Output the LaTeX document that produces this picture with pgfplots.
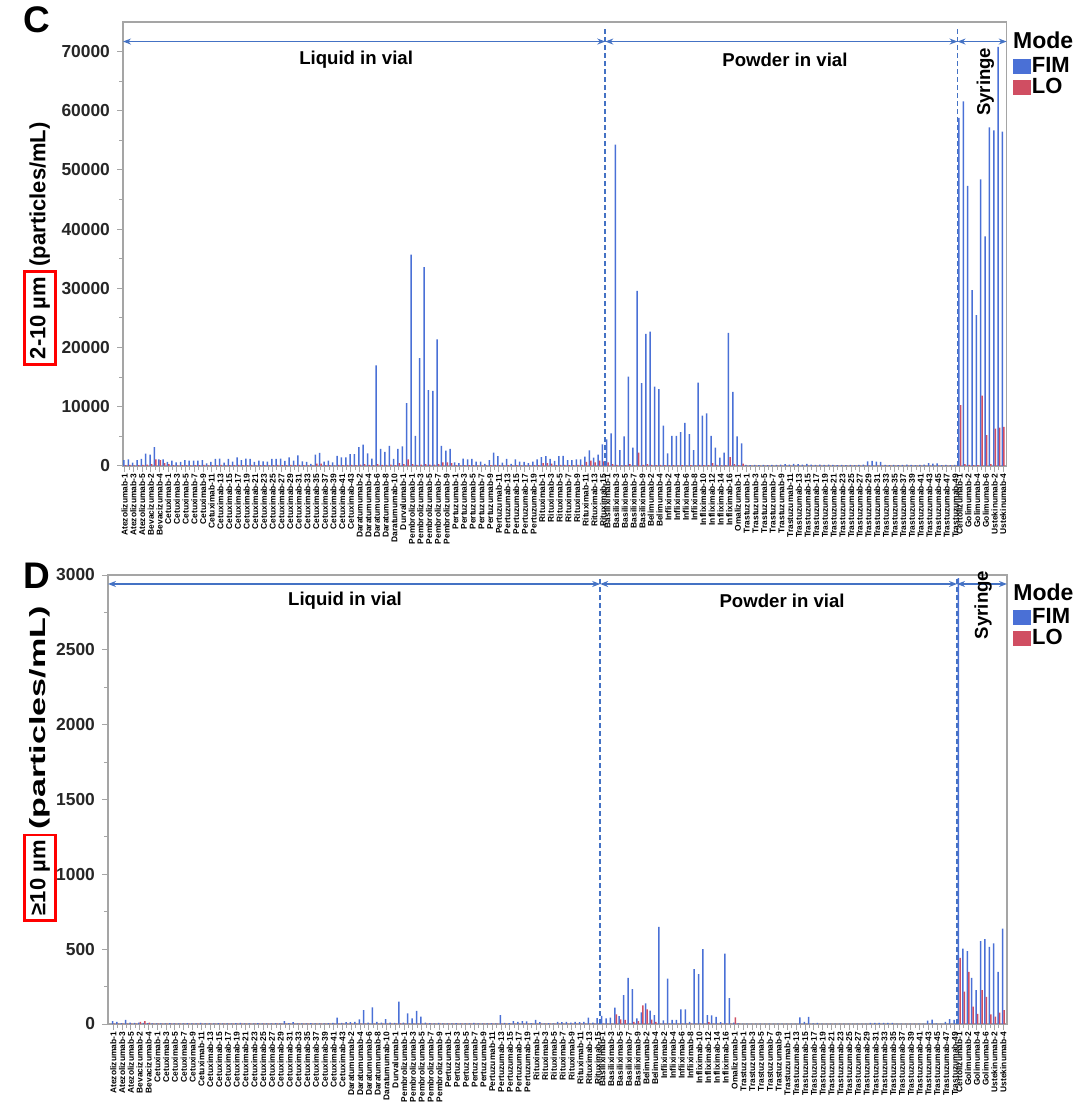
\documentclass[border=0pt]{standalone}
\usepackage{pgfplots}
\pgfplotsset{compat=1.18}
\usepackage{pgfplotstable}
\usepackage{graphicx}
\usetikzlibrary{arrows.meta}
\usepackage{fontspec}
\setmainfont{Liberation Sans}
\definecolor{fimblue}{RGB}{74,112,214}
\definecolor{lored}{RGB}{208,78,98}
\definecolor{arrowblue}{RGB}{68,114,196}
\definecolor{axgray}{RGB}{165,165,165}

% Panel C: 2-10 um
\pgfplotstableread[row sep=\\]{
x fim lo\\
0 1000 150\\ 1 1100 200\\ 2 550 100\\ 3 1000 150\\ 4 1200 200\\ 5 2100 250\\ 6 1900 300\\ 7 3200 1100\\ 8 1100 1000\\ 9 1100 500\\
10 700 300\\ 11 900 150\\ 12 600 100\\ 13 700 150\\ 14 1000 150\\ 15 900 100\\ 16 900 150\\ 17 900 150\\ 18 1000 200\\ 19 450 100\\
20 700 150\\ 21 1200 150\\ 22 1250 200\\ 23 550 100\\ 24 1200 150\\ 25 750 150\\ 26 1450 200\\ 27 1000 150\\ 28 1250 150\\ 29 1200 200\\
30 700 100\\ 31 900 150\\ 32 800 150\\ 33 750 100\\ 34 1200 150\\ 35 1200 200\\ 36 1250 150\\ 37 850 150\\ 38 1450 200\\ 39 900 150\\
40 1800 200\\ 41 800 150\\ 42 700 100\\ 43 350 100\\ 44 1900 400\\ 45 2200 400\\ 46 750 150\\ 47 900 150\\ 48 600 100\\ 49 1700 200\\
50 1450 150\\ 51 1450 200\\ 52 2000 200\\ 53 2000 150\\ 54 3200 250\\ 55 3600 300\\ 56 2150 200\\ 57 1250 150\\ 58 17000 300\\ 59 2900 200\\
60 2400 200\\ 61 3400 250\\ 62 1200 150\\ 63 2900 500\\ 64 3300 300\\ 65 10600 1100\\ 66 35700 300\\ 67 5100 200\\ 68 18200 250\\ 69 33600 300\\
70 12800 250\\ 71 12700 250\\ 72 21400 300\\ 73 3400 600\\ 74 2600 600\\ 75 2900 500\\ 76 600 150\\ 77 500 100\\ 78 1250 150\\ 79 1100 150\\
80 1200 150\\ 81 750 100\\ 82 750 100\\ 83 350 100\\ 84 1000 150\\ 85 2250 200\\ 86 1650 150\\ 87 550 100\\ 88 1200 150\\ 89 350 100\\
90 1100 150\\ 91 750 100\\ 92 700 100\\ 93 500 100\\ 94 750 150\\ 95 1100 150\\ 96 1500 500\\ 97 1650 500\\ 98 1200 400\\ 99 850 150\\
100 1650 200\\ 101 1700 200\\ 102 1000 150\\ 103 1000 150\\ 104 1100 200\\ 105 1100 200\\ 106 1600 700\\ 107 2650 900\\ 108 1400 600\\ 109 1900 900\\
110 3650 800\\
111 4500 600\\ 112 5500 300\\ 113 54300 200\\ 114 2700 100\\ 115 5000 150\\ 116 15100 300\\ 117 3100 100\\ 118 29600 2250\\ 119 14000 200\\ 120 22300 300\\
121 22700 200\\ 122 13400 150\\ 123 13000 200\\ 124 6800 150\\ 125 2150 100\\ 126 5100 150\\ 127 5100 100\\ 128 5700 150\\ 129 7300 100\\ 130 5400 150\\
131 2700 100\\ 132 14100 200\\ 133 8500 150\\ 134 8900 150\\ 135 5100 500\\ 136 3100 200\\ 137 1400 100\\ 138 2250 150\\ 139 22500 1500\\ 140 12500 300\\
141 5000 150\\ 142 3800 400\\ 143 200 50\\ 144 150 50\\ 145 180 50\\ 146 150 50\\ 147 200 50\\ 148 150 50\\ 149 180 50\\ 150 200 50\\
151 250 50\\ 152 300 50\\ 153 250 50\\ 154 350 50\\ 155 300 50\\ 156 250 50\\ 157 350 50\\ 158 250 50\\ 159 200 50\\ 160 250 50\\
161 200 50\\ 162 250 50\\ 163 200 50\\ 164 150 50\\ 165 200 50\\ 166 150 50\\ 167 200 50\\ 168 150 50\\ 169 200 50\\ 170 250 50\\
171 800 50\\ 172 850 50\\ 173 750 50\\ 174 700 50\\ 175 200 50\\ 176 150 50\\ 177 200 50\\ 178 150 50\\ 179 200 50\\ 180 250 50\\
181 200 50\\ 182 150 50\\ 183 200 50\\ 184 250 50\\ 185 500 50\\ 186 400 50\\ 187 450 50\\ 188 150 50\\ 189 200 50\\ 190 150 50\\
191 200 50\\
192 58800 10300\\ 193 61600 300\\ 194 47300 200\\ 195 29700 150\\ 196 25500 150\\ 197 48400 11900\\ 198 38800 5200\\ 199 57200 300\\ 200 56700 6300\\ 201 70800 6500\\
202 56500 6600\\
}\tabC

% Panel D: >=10 um
\pgfplotstableread[row sep=\\]{
x fim lo\\
0 20 2\\ 1 15 2\\ 2 6 2\\ 3 27 2\\ 4 10 2\\ 5 8 3\\ 6 10 15\\ 7 8 20\\ 8 6 10\\ 9 5 2\\
10 5 2\\ 11 4 2\\ 12 5 2\\ 13 6 2\\ 14 5 2\\ 15 4 2\\ 16 5 2\\ 17 6 2\\ 18 4 2\\ 19 5 2\\
20 8 2\\ 21 5 2\\ 22 4 2\\ 23 5 2\\ 24 6 2\\ 25 5 2\\ 26 4 2\\ 27 5 2\\ 28 6 2\\ 29 8 2\\
30 5 2\\ 31 4 2\\ 32 5 2\\ 33 6 2\\ 34 5 2\\ 35 4 2\\ 36 5 2\\ 37 6 2\\ 38 5 2\\ 39 20 2\\
40 6 2\\ 41 12 2\\ 42 5 2\\ 43 4 2\\ 44 5 2\\ 45 6 2\\ 46 5 2\\ 47 4 2\\ 48 5 2\\ 49 6 2\\
50 8 2\\ 51 42 3\\ 52 8 2\\ 53 12 2\\ 54 12 2\\ 55 15 2\\ 56 31 3\\ 57 93 3\\ 58 10 2\\ 59 111 3\\
60 15 2\\ 61 10 2\\ 62 33 3\\ 63 10 2\\ 64 8 3\\ 65 149 5\\ 66 10 2\\ 67 71 3\\ 68 38 2\\ 69 87 3\\
70 49 2\\ 71 10 2\\ 72 6 2\\ 73 5 3\\ 74 8 2\\ 75 5 2\\ 76 4 2\\ 77 5 2\\ 78 6 2\\ 79 5 2\\
80 4 2\\ 81 5 2\\ 82 8 2\\ 83 5 2\\ 84 4 2\\ 85 5 2\\ 86 6 2\\ 87 5 2\\ 88 60 2\\ 89 8 2\\
90 6 2\\ 91 20 2\\ 92 15 2\\ 93 20 2\\ 94 18 2\\ 95 6 2\\ 96 27 2\\ 97 12 2\\ 98 5 2\\ 99 6 2\\
100 5 2\\ 101 15 2\\ 102 12 2\\ 103 15 2\\ 104 10 2\\ 105 15 2\\ 106 12 3\\ 107 15 3\\ 108 42 3\\ 109 10 2\\
110 40 3\\
111 55 2\\ 112 38 2\\ 113 42 2\\ 114 109 64\\ 115 53 31\\ 116 193 27\\ 117 309 2\\ 118 233 15\\ 119 38 20\\ 120 78 124\\
121 138 98\\ 122 89 30\\ 123 60 15\\ 124 649 2\\ 125 24 2\\ 126 304 2\\ 127 27 2\\ 128 27 2\\ 129 98 2\\ 130 98 2\\
131 15 2\\ 132 367 2\\ 133 333 2\\ 134 500 2\\ 135 60 12\\ 136 58 2\\ 137 47 2\\ 138 13 2\\ 139 471 2\\ 140 173 2\\
141 10 44\\ 142 4 2\\ 143 3 1\\ 144 3 1\\ 145 3 1\\ 146 3 1\\ 147 3 1\\ 148 3 1\\ 149 3 1\\ 150 3 1\\
151 3 1\\ 152 3 1\\ 153 3 1\\ 154 3 1\\ 155 3 1\\ 156 44 1\\ 157 15 1\\ 158 47 1\\ 159 5 1\\ 160 8 1\\
161 3 1\\ 162 3 1\\ 163 3 1\\ 164 3 1\\ 165 3 1\\ 166 3 1\\ 167 3 1\\ 168 3 1\\ 169 3 1\\ 170 3 1\\
171 3 1\\ 172 7 1\\ 173 7 1\\ 174 7 1\\ 175 7 1\\ 176 7 1\\ 177 7 1\\ 178 3 1\\ 179 3 1\\ 180 3 1\\
181 3 1\\ 182 3 1\\ 183 3 1\\ 184 3 1\\ 185 22 1\\ 186 29 1\\ 187 5 1\\ 188 3 1\\ 189 15 1\\ 190 33 1\\
191 27 1\\
192 2980 442\\ 193 504 216\\ 194 487 349\\ 195 309 116\\ 196 227 67\\ 197 553 227\\ 198 567 182\\ 199 516 64\\ 200 538 49\\ 201 349 76\\
202 638 93\\
}\tabD

\tikzset{
  divider/.style={arrowblue, line width=0.9pt, dash pattern=on 2.5pt off 1.5pt},
  span/.style={arrowblue, line width=0.7pt, {Stealth[length=4pt,width=3pt]}-{Stealth[length=4pt,width=3pt]}},
}

\pgfplotsset{
  panel/.style={
    scale only axis, anchor=north west, clip=false,
    axis line style={axgray, line width=0.6pt},
    tick style={axgray, line width=0.5pt},
    tick align=outside,
    xtick pos=left, ytick pos=left,
    major tick length=3pt, minor tick length=2pt,
    ymin=0,
    xtick={0,2,4,6,8,10,12,14,16,18,20,22,24,26,28,30,32,34,36,38,40,42,44,46,48,50,52,54,56,58,60,62,64,66,68,70,72,74,76,78,80,82,84,86,88,90,92,94,96,98,100,102,104,106,108,110,111,113,115,117,119,121,123,125,127,129,131,133,135,137,139,141,143,145,147,149,151,153,155,157,159,161,163,165,167,169,171,173,175,177,179,181,183,185,187,189,191,192,194,196,198,200,202},
    xticklabels={Atezolizumab-1,Atezolizumab-3,Atezolizumab-5,Bevacizumab-2,Bevacizumab-4,Cetuximab-1,Cetuximab-3,Cetuximab-5,Cetuximab-7,Cetuximab-9,Cetuximab-11,Cetuximab-13,Cetuximab-15,Cetuximab-17,Cetuximab-19,Cetuximab-21,Cetuximab-23,Cetuximab-25,Cetuximab-27,Cetuximab-29,Cetuximab-31,Cetuximab-33,Cetuximab-35,Cetuximab-37,Cetuximab-39,Cetuximab-41,Cetuximab-43,Daratumumab-2,Daratumumab-4,Daratumumab-6,Daratumumab-8,Daratumumab-10,Durvalumab-1,Pembrolizumab-1,Pembrolizumab-3,Pembrolizumab-5,Pembrolizumab-7,Pembrolizumab-9,Pertuzumab-1,Pertuzumab-3,Pertuzumab-5,Pertuzumab-7,Pertuzumab-9,Pertuzumab-11,Pertuzumab-13,Pertuzumab-15,Pertuzumab-17,Pertuzumab-19,Rituximab-1,Rituximab-3,Rituximab-5,Rituximab-7,Rituximab-9,Rituximab-11,Rituximab-13,Rituximab-15,Basiliximab-1,Basiliximab-3,Basiliximab-5,Basiliximab-7,Basiliximab-9,Belimumab-2,Belimumab-4,Infliximab-2,Infliximab-4,Infliximab-6,Infliximab-8,Infliximab-10,Infliximab-12,Infliximab-14,Infliximab-16,Omalizumab-1,Trastuzumab-1,Trastuzumab-3,Trastuzumab-5,Trastuzumab-7,Trastuzumab-9,Trastuzumab-11,Trastuzumab-13,Trastuzumab-15,Trastuzumab-17,Trastuzumab-19,Trastuzumab-21,Trastuzumab-23,Trastuzumab-25,Trastuzumab-27,Trastuzumab-29,Trastuzumab-31,Trastuzumab-33,Trastuzumab-35,Trastuzumab-37,Trastuzumab-39,Trastuzumab-41,Trastuzumab-43,Trastuzumab-45,Trastuzumab-47,Trastuzumab-49,Certolizumab-1,Golimumab-2,Golimumab-4,Golimumab-6,Ustekinumab-2,Ustekinumab-4},
    minor xtick={0,...,202},
    xticklabel style={rotate=90, anchor=east, font=\fontsize{4.2}{4.5}\selectfont\bfseries, inner sep=0.8pt},
    yticklabel style={font=\fontsize{8.7}{10}\selectfont\bfseries, text=black!85},
    /pgf/number format/assume math mode=true,
    /pgf/number format/1000 sep={},
    scaled y ticks=false,
    minor y tick num=1,
    ylabel style={anchor=center, font=\fontsize{11}{12}\selectfont\bfseries},
    legend style={at={(1,1)}, anchor=north west, draw=none, fill=none, inner sep=0pt,
      font=\fontsize{11}{12}\selectfont\bfseries,
      nodes={inner sep=0.5pt, text height=8pt, text depth=1.5pt}},
    legend cell align=left,
  },
  fimbar/.style={ybar, bar width=0.75pt, bar shift=-0.38pt, fill=fimblue, draw=none, forget plot},
  lobar/.style={ybar, bar width=0.75pt, bar shift=0.38pt, fill=lored, draw=none, forget plot},
}

\begin{document}
\begin{tikzpicture}
\useasboundingbox (0,0) rectangle (540pt,-556.5pt);

% ---------- Panel C ----------
\begin{axis}[panel,
  at={(61.5pt,-11pt)}, width=441.85pt, height=222pt,
  xmin=-0.4, xmax=202.8, ymax=75000,
  ytick={0,10000,...,70000},
  ylabel={\setlength{\fboxrule}{1.3pt}\setlength{\fboxsep}{2pt}\fcolorbox{red}{white}{2-10 µm}\,(particles/mL)},
  ylabel style={at={(axis description cs:-0.0939,0.5)}},
  legend style={xshift=3pt, yshift=-16.75pt},
]
\addlegendimage{legend image code/.code={\fill[fimblue] (0pt,-3.6pt) rectangle (8.5pt,3.6pt);}}
\addlegendentry{FIM}
\addlegendimage{legend image code/.code={\fill[lored] (0pt,-3.6pt) rectangle (8.5pt,3.6pt);}}
\addlegendentry{LO}
\addplot[fimbar] table[x=x, y=fim]{\tabC};
\addplot[lobar] table[x=x, y=lo]{\tabC};
\draw[divider] (axis cs:110.5,0) -- (axis cs:110.5,73800);
\draw[divider] (axis cs:191.5,0) -- (axis cs:191.5,73800);
\draw[span] (axis cs:-0.4,71700) -- (axis cs:110.5,71700);
\draw[span] (axis cs:110.5,71700) -- (axis cs:191.5,71700);
\draw[span] (axis cs:191.5,71700) -- (axis cs:202.8,71700);
\node[font=\fontsize{9.3}{10}\selectfont\bfseries] at (axis cs:53.2,68600) {Liquid in vial};
\node[font=\fontsize{9.3}{10}\selectfont\bfseries] at (axis cs:151.8,68600) {Powder in vial};
\node[font=\fontsize{9.3}{10}\selectfont\bfseries, rotate=90] at (axis cs:197.9,64900) {Syringe};
\node[anchor=west, inner sep=0pt, xshift=3pt, yshift=-9pt, font=\fontsize{11.5}{12}\selectfont\bfseries] at (rel axis cs:1,1) {Mode};
\end{axis}

% ---------- Panel D ----------
\begin{axis}[panel,
  at={(54pt,-287.5pt)}, width=449.5pt, height=224.5pt,
  xmin=-1.2, xmax=202.84, ymax=3000,
  ytick={0,500,...,3000},
  ylabel={\setlength{\fboxrule}{1.3pt}\setlength{\fboxsep}{2pt}\fcolorbox{red}{white}{≥10 µm}\,\scalebox{1.55}[1]{(particles/mL)}},
  ylabel style={at={(axis description cs:-0.0756,0.579)}},
  legend style={xshift=3pt, yshift=-15.75pt},
]
\addlegendimage{legend image code/.code={\fill[fimblue] (0pt,-3.6pt) rectangle (8.5pt,3.6pt);}}
\addlegendentry{FIM}
\addlegendimage{legend image code/.code={\fill[lored] (0pt,-3.6pt) rectangle (8.5pt,3.6pt);}}
\addlegendentry{LO}
\addplot[fimbar] table[x=x, y=fim]{\tabD};
\addplot[lobar] table[x=x, y=lo]{\tabD};
\draw[divider] (axis cs:110.5,0) -- (axis cs:110.5,2985);
\draw[divider] (axis cs:191.5,0) -- (axis cs:191.5,2985);
\draw[span] (axis cs:-1.2,2940) -- (axis cs:110.5,2940);
\draw[span] (axis cs:110.5,2940) -- (axis cs:191.5,2940);
\draw[span] (axis cs:191.5,2940) -- (axis cs:202.84,2940);
\node[font=\fontsize{9.3}{10}\selectfont\bfseries] at (axis cs:52.6,2826) {Liquid in vial};
\node[font=\fontsize{9.3}{10}\selectfont\bfseries] at (axis cs:151.8,2826) {Powder in vial};
\node[font=\fontsize{9.3}{10}\selectfont\bfseries, rotate=90] at (axis cs:197.4,2800) {Syringe};
\node[anchor=west, inner sep=0pt, xshift=3pt, yshift=-8.5pt, font=\fontsize{11.5}{12}\selectfont\bfseries] at (rel axis cs:1,1) {Mode};
\end{axis}

% panel letters
\node[font=\fontsize{18.5}{20}\selectfont\bfseries] at (18.25pt,-10pt) {C};
\node[font=\fontsize{18.5}{20}\selectfont\bfseries] at (18.5pt,-288pt) {D};
\end{tikzpicture}
\end{document}
